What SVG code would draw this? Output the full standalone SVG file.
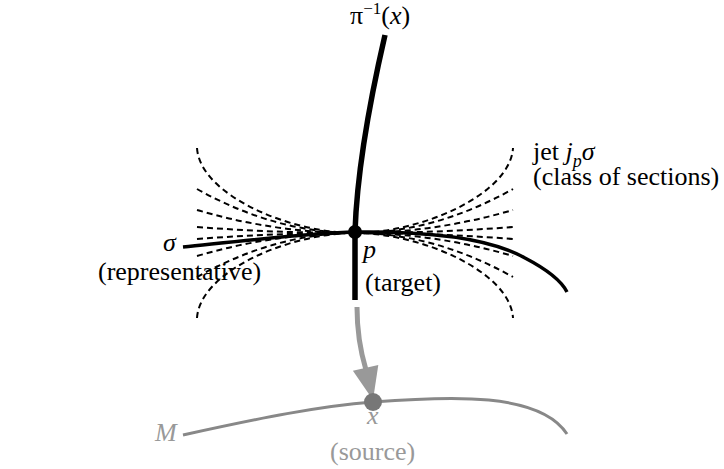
<svg xmlns="http://www.w3.org/2000/svg" width="724" height="469" viewBox="0 0 724 469">
<style>
.t{font-family:'Liberation Serif','DejaVu Serif',serif;font-size:26px}
.it{font-style:italic}
.dash{fill:none;stroke:#000;stroke-width:2;stroke-dasharray:6,4}
.gray{fill:#999}
</style>
<rect width="724" height="469" fill="#fff"/>
<g id="connectors">
  <g id="jets">
    <path class="dash" d="M197,148 C200,195 290,233 355,233 C420,233 510,195 513,148"/>
    <path class="dash" d="M197,189 Q276,233 355,233 Q434,233 513,189"/>
    <path class="dash" d="M197,210 Q276,233 355,233 Q434,233 513,210"/>
    <path class="dash" d="M197,227 Q276,233 355,233 Q434,233 513,227"/>
    <path class="dash" d="M197,239 Q276,233 355,233 Q434,233 513,239"/>
    <path class="dash" d="M197,256 Q276,233 355,233 Q434,233 513,256"/>
    <path class="dash" d="M197,277 Q276,233 355,233 Q434,233 513,277"/>
    <path class="dash" d="M197,318 C200,271 290,233 355,233 C420,233 510,271 513,318"/>
  </g>
  <path id="sigma-curve" d="M183,247 C250,240 310,233 355,232 C430,231 490,238 525,258 C548,270 562,282 567,292" fill="none" stroke="#000" stroke-width="3.5"/>
  <path id="fiber" d="M385,35 C370,100 357,170 355,232 L355,300" fill="none" stroke="#000" stroke-width="5.5"/>
  <path id="base-M" d="M183,435 C260,418 320,406 373,402 C450,396 540,392 567,434" fill="none" stroke="#888" stroke-width="3"/>
  <g id="projection">
    <path d="M357,307 C357,330 360,350 366,370" fill="none" stroke="#999" stroke-width="5"/>
    <polygon points="373,400 352.9,370.7 378.3,364.9" fill="#999"/>
  </g>
</g>
<g id="node-p" font-family="Liberation Serif, DejaVu Serif, serif">
  <circle cx="355" cy="232" r="7" fill="#000"/>
  <text class="t it" x="363" y="258">p</text>
  <text class="t" x="365" y="291">(target)</text>
</g>
<g id="node-x" font-family="Liberation Serif, DejaVu Serif, serif">
  <circle cx="373" cy="402" r="9" fill="#777"/>
  <text class="t it gray" x="367" y="424">x</text>
  <text class="t gray" x="330" y="460">(source)</text>
</g>
<g id="label-M" font-family="Liberation Serif, DejaVu Serif, serif">
  <text class="t it gray" x="155" y="441">M</text>
</g>
<g id="label-fiber" font-family="Liberation Serif, DejaVu Serif, serif">
  <text class="t" x="350" y="24">π<tspan font-size="17" dy="-10">−1</tspan><tspan dy="10">(</tspan><tspan class="it">x</tspan>)</text>
</g>
<g id="label-sigma" font-family="Liberation Serif, DejaVu Serif, serif">
  <text class="t it" x="163" y="251">σ</text>
  <text class="t" x="98" y="280">(representative)</text>
</g>
<g id="label-jet" font-family="Liberation Serif, DejaVu Serif, serif">
  <text class="t" x="533" y="160">jet <tspan class="it">j</tspan><tspan class="it" font-size="18" dy="7">p</tspan><tspan class="it" dy="-7">σ</tspan></text>
  <text class="t" x="533" y="185">(class of sections)</text>
</g>
</svg>
